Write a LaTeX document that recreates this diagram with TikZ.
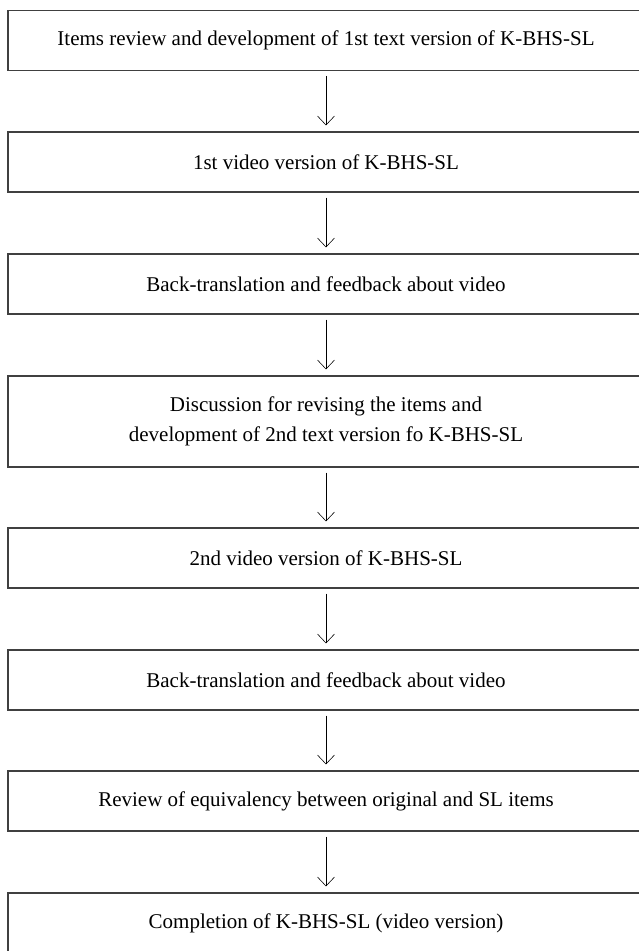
\documentclass[tikz,border=0pt]{standalone}
\usepackage{fontspec}
\setmainfont{Liberation Serif}
\usetikzlibrary{arrows.meta}
\begin{document}
\begin{tikzpicture}[x=1pt,y=1pt,
  stage/.style={draw=black!75, line width=0.4mm, minimum width=636pt, minimum height=60pt,
    inner sep=0pt, align=center, font=\fontsize{21}{30}\selectfont},
  flow/.style={-{Straight Barb[length=9pt,width=17pt]}, black, line width=0.2mm,
    shorten <=5pt, shorten >=6pt}]
\useasboundingbox (0,0) rectangle (638,-951);

\node[stage] (1) at (326,-40.25) {Items review and development of 1st text version of K-BHS-SL};
\node[stage] (2) at (326,-162) {1st video version of K-BHS-SL};
\node[stage] (3) at (326,-284) {Back-translation and feedback about video};
\node[stage, minimum height=91pt] (4) at (326,-421.5) {Discussion for revising the items and\\development of 2nd text version fo K-BHS-SL};
\node[stage] (5) at (326,-558) {2nd video version of K-BHS-SL};
\node[stage] (6) at (326,-680) {Back-translation and feedback about video};
\node[stage] (7) at (326,-801) {Review of equivalency between original and SL items};
\node[stage] (8) at (326,-923) {Completion of K-BHS-SL (video version)};

\draw[flow] (1) -- (2);
\draw[flow] (2) -- (3);
\draw[flow] (3) -- (4);
\draw[flow] (4) -- (5);
\draw[flow] (5) -- (6);
\draw[flow] (6) -- (7);
\draw[flow] (7) -- (8);
\end{tikzpicture}
\end{document}
